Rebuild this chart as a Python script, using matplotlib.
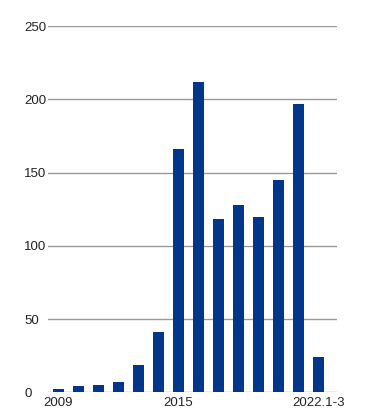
import matplotlib
matplotlib.use("Agg")
import matplotlib.pyplot as plt

years = ["2009", "2010", "2011", "2012", "2013", "2014", "2015",
         "2016", "2017", "2018", "2019", "2020", "2021", "2022.1-3"]
counts = [2, 4, 5, 7, 19, 41, 166, 212, 118, 128, 120, 145, 197, 24]
shown_labels = {0: "2009", 6: "2015", 13: "2022.1-3"}
y_ticks = [0, 50, 100, 150, 200, 250]

plt.rcParams["font.family"] = ["Liberation Sans Narrow", "Liberation Sans", "DejaVu Sans"]

fig = plt.figure(figsize=(3.69, 4.13), dpi=100)
ax = fig.add_axes([0.130, 0.050, 0.783, 0.887])

x = list(range(len(years)))
ax.bar(x, counts, width=0.57, color="#00378A", zorder=3)

ax.set_xlim(-0.52, 13.93)
ax.set_ylim(0, 250)
ax.set_yticks(y_ticks)
ax.set_yticklabels([str(v) for v in y_ticks], fontsize=9.5, color="#222222")
for lbl in ax.get_yticklabels():
    lbl.set_horizontalalignment("left")
ax.tick_params(axis="y", length=0, pad=17)

ax.set_xticks(list(shown_labels.keys()))
ax.set_xticklabels(list(shown_labels.values()), fontsize=9.5, color="#222222")
ax.tick_params(axis="x", length=0, pad=3)

ax.grid(axis="y", color="#999999", linewidth=1, zorder=0)
for s in ax.spines.values():
    s.set_visible(False)

fig.savefig("out.png", dpi=100)
